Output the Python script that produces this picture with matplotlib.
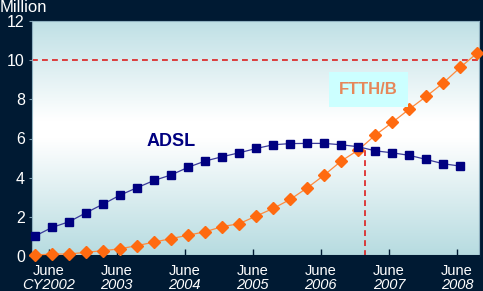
import numpy as np
import matplotlib
matplotlib.use("Agg")
import matplotlib.pyplot as plt
from matplotlib.colors import LinearSegmentedColormap

plt.rcParams['font.family'] = ['Liberation Sans', 'DejaVu Sans']

# quarterly data (million subscribers)
adsl = [1.02, 1.46, 1.75, 2.21, 2.65, 3.11, 3.49, 3.86, 4.14, 4.53, 4.85, 5.07, 5.27,
        5.49, 5.68, 5.74, 5.75, 5.75, 5.68, 5.58, 5.37, 5.27, 5.14, 4.93, 4.71, 4.59]
ftth = [0.05, 0.10, 0.10, 0.19, 0.27, 0.37, 0.53, 0.71, 0.89, 1.06, 1.24, 1.50, 1.65,
        2.04, 2.43, 2.89, 3.48, 4.13, 4.85, 5.41, 6.17, 6.82, 7.50, 8.15, 8.84, 9.63, 10.37]
tick_pos = [0.8, 4.8, 8.8, 12.8, 16.8, 20.8, 24.8]
tick_month = ["June"] * 7
tick_year = ["CY2002", "2003", "2004", "2005", "2006", "2007", "2008"]
yticks = [0, 2, 4, 6, 8, 10, 12]
target = 10
cross_x = 19.4
cross_y = 5.5

bg = '#001a33'
fig = plt.figure(figsize=(4.83, 2.91), dpi=100, facecolor=bg)
ax = fig.add_axes([31.7/483, 35/291, (479-31.7)/483, 235/291])
xmin, xmax = -0.2, 26.1
ax.set_xlim(xmin, xmax)
ax.set_ylim(0, 12)

# gradient background
cmap = LinearSegmentedColormap.from_list('g', [(0, '#b6dbe0'), (0.5, '#ffffff'), (0.58, '#ffffff'), (1, '#bfe0e5')])
grad = np.linspace(0, 1, 256).reshape(-1, 1)
ax.imshow(grad, aspect='auto', cmap=cmap, origin='lower', extent=[xmin, xmax, 0, 12], zorder=0)

x_a = np.arange(len(adsl))
x_f = np.arange(len(ftth))
ax.plot(x_a, adsl, color='#3a3a9a', lw=0.9, marker='s', ms=6.4, mfc='#000080', mec='#000080', zorder=4, clip_on=False)
ax.plot(x_f, ftth, color='#ff8a3d', lw=0.9, marker='D', ms=5.8, mfc='#ff6a10', mec='#ff6a10', zorder=3, clip_on=False)

ax.axhline(target, color='#dd1f1f', lw=1.2, ls=(0, (3.5, 2.5)), zorder=2)
ax.plot([cross_x, cross_x], [0, cross_y], color='#dd1f1f', lw=1.2, ls=(0, (3.5, 2.5)), zorder=2)

ax.text(8.0, 5.84, 'ADSL', color='#000080', fontsize=13, fontweight='bold', ha='center', va='center', zorder=5)
ax.text(19.6, 8.52, 'FTTH/B', color='#e6875a', fontsize=12, fontweight='bold', ha='center', va='center', zorder=5,
        bbox=dict(boxstyle='square,pad=0.6', fc='#ccffff', ec='none'))

ax.set_yticks(yticks)
ax.set_yticklabels([str(v) for v in yticks], color='white', fontsize=11.5)
ax.tick_params(axis='y', length=2, color='#7f9fb0', pad=3)
ax.set_xticks(tick_pos)
ax.set_xticklabels(tick_month, color='white', fontsize=10.5)
ax.tick_params(axis='x', direction='in', length=5, width=1, color='#001a33', pad=6)
for xp, yr in zip(tick_pos, tick_year):
    ax.annotate(yr, xy=(xp, 0), xycoords=('data', 'axes fraction'), xytext=(0, -29*0.72),
                textcoords='offset points', ha='center', va='center', color='white',
                fontsize=10.5, fontstyle='italic')

for s in ['left', 'top', 'right']:
    ax.spines[s].set_color('#8fb0bf')
    ax.spines[s].set_linewidth(0.8)
ax.spines['bottom'].set_color('#001a33')
ax.spines['bottom'].set_linewidth(1.5)

fig.text(0.0, 1 - 7/291, 'Million', color='white', fontsize=12, ha='left', va='center')

fig.savefig('out.png', dpi=100, facecolor=bg)
